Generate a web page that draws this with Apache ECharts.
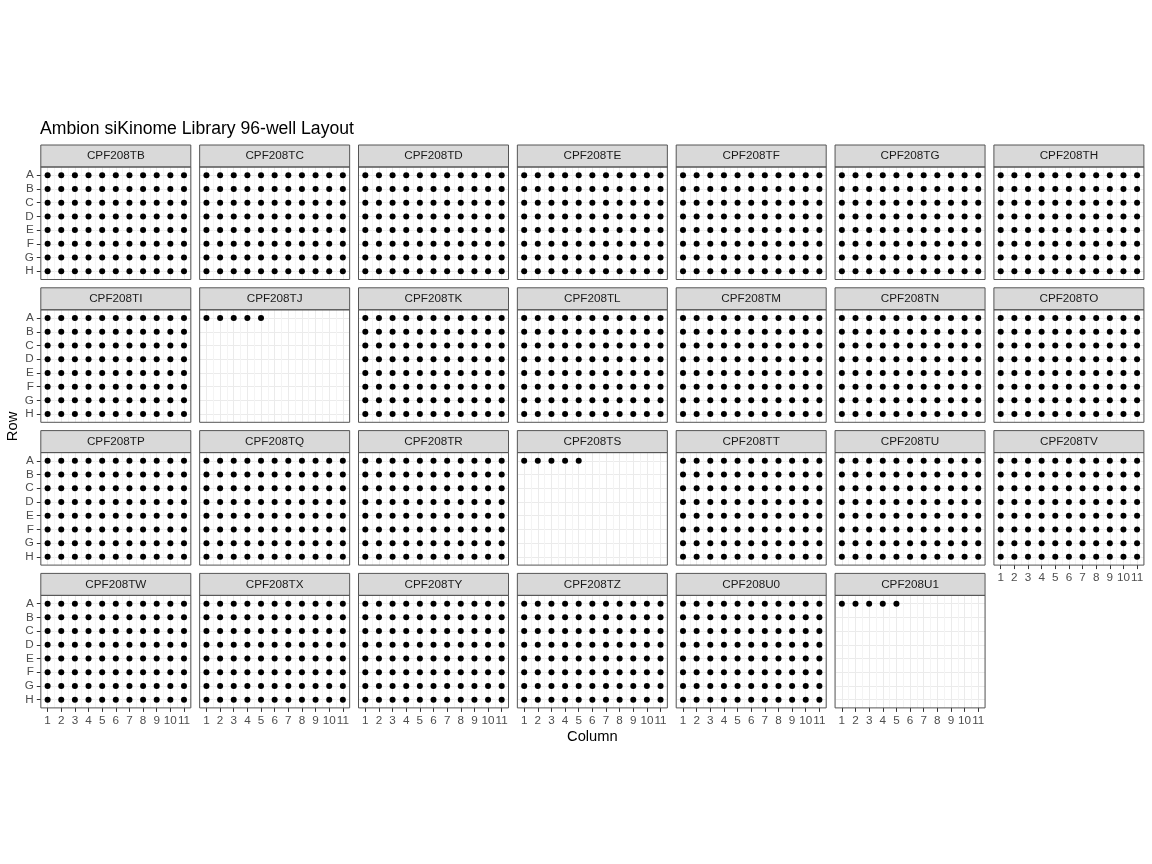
<!DOCTYPE html>
<html>
<head>
<meta charset="utf-8">
<script src="https://cdn.jsdelivr.net/npm/echarts@6/dist/echarts.min.js"></script>
<style>html,body{margin:0;padding:0;background:#fff}#chart{width:1152px;height:864px}</style>
</head>
<body>
<div id="chart"></div>
<script>
// ---- data ----
const rowLabels = ['A', 'B', 'C', 'D', 'E', 'F', 'G', 'H'];
const columnLabels = [1, 2, 3, 4, 5, 6, 7, 8, 9, 10, 11];
const plates = [
  'CPF208TB', 'CPF208TC', 'CPF208TD', 'CPF208TE', 'CPF208TF', 'CPF208TG', 'CPF208TH',
  'CPF208TI', 'CPF208TJ', 'CPF208TK', 'CPF208TL', 'CPF208TM', 'CPF208TN', 'CPF208TO',
  'CPF208TP', 'CPF208TQ', 'CPF208TR', 'CPF208TS', 'CPF208TT', 'CPF208TU', 'CPF208TV',
  'CPF208TW', 'CPF208TX', 'CPF208TY', 'CPF208TZ', 'CPF208U0', 'CPF208U1'
];
// number of wells filled on each plate (filled row by row: A1..A11, B1..)
const wellsFilled = [
  88, 88, 88, 88, 88, 88, 88,
  88, 5, 88, 88, 88, 88, 88,
  88, 88, 88, 5, 88, 88, 88,
  88, 88, 88, 88, 88, 5
];
const titleText = 'Ambion siKinome Library 96-well Layout';
const xTitle = 'Column';
const yTitle = 'Row';

// ---- layout ----
const NCOL = 7;
const PW = 150, PH = 112.5, SH = 22;
const colLeft = c => 40.8 + 158.85 * c;
const stripTop = r => 145 + 142.8 * r;
const nPanels = plates.length;
const nRows = Math.ceil(nPanels / NCOL);

const grids = [], xAxes = [], yAxes = [], series = [], graphics = [];
const FONT = '"Liberation Sans", Arial, Helvetica, sans-serif';
const BORDER = '#555555';

plates.forEach((name, i) => {
  const r = Math.floor(i / NCOL), c = i % NCOL;
  const L = colLeft(c), T = stripTop(r);
  const showX = (i + NCOL >= nPanels);
  const showY = (c === 0);
  grids.push({left: L, top: T + SH, width: PW, height: PH, show: true,
    borderColor: BORDER, borderWidth: 0, backgroundColor: '#ffffff', containLabel: false});
  // value axis for data and grid lines
  xAxes.push({gridIndex: i, type: 'value', min: 0.5, max: 11.5, interval: 0.5,
    axisLabel: {show: false}, axisTick: {show: false}, axisLine: {show: false},
    splitLine: {show: true, lineStyle: {color: ['#F4F4F4', '#EBEBEB'], width: 1}}});
  // category axis for ticks and labels
  xAxes.push({gridIndex: i, type: 'category', data: columnLabels, boundaryGap: true, position: 'bottom',
    axisLine: {show: false},
    axisTick: {show: showX, alignWithLabel: true, length: 4, lineStyle: {color: '#333', width: 1}},
    axisLabel: {show: showX, interval: 0, hideOverlap: false, fontSize: 11.7, color: '#4D4D4D', margin: 7, fontFamily: FONT},
    splitLine: {show: false}});
  yAxes.push({gridIndex: i, type: 'value', min: 0.4, max: 8.6, inverse: true,
    axisLine: {show: false},
    axisTick: {show: showY, customValues: [1, 2, 3, 4, 5, 6, 7, 8], length: 4, lineStyle: {color: '#333', width: 1}},
    axisLabel: {show: showY, customValues: [1, 2, 3, 4, 5, 6, 7, 8], formatter: v => rowLabels[Math.round(v) - 1] || '',
      fontSize: 11.7, color: '#4D4D4D', margin: 7, fontFamily: FONT},
    splitLine: {show: true, lineStyle: {color: '#EBEBEB', width: 1}}});
  const pts = [];
  for (let k = 0; k < wellsFilled[i]; k++) {
    const ri = Math.floor(k / columnLabels.length), ci = k % columnLabels.length;
    pts.push([columnLabels[ci], ri + 1]);
  }
  series.push({type: 'scatter', xAxisIndex: 2 * i, yAxisIndex: i, data: pts, symbolSize: 6,
    itemStyle: {color: '#000', opacity: 1}, silent: true, animation: false});
  graphics.push({type: 'rect', z: 100, shape: {x: L, y: T, width: PW, height: SH},
    style: {fill: '#D9D9D9', stroke: BORDER, lineWidth: 1}, silent: true});
  graphics.push({type: 'rect', z: 100, shape: {x: L, y: T + SH, width: PW, height: PH},
    style: {fill: null, stroke: BORDER, lineWidth: 1}, silent: true});
  graphics.push({type: 'text', z: 101, x: L + PW / 2, y: T + SH / 2,
    style: {text: name, fill: '#1A1A1A', font: '11.7px ' + FONT, textAlign: 'center', textVerticalAlign: 'middle'}, silent: true});
});

const plotTop = stripTop(0), plotBottom = stripTop(nRows - 1) + SH + PH;
graphics.push({type: 'text', x: (colLeft(0) + colLeft(NCOL - 1) + PW) / 2, y: plotBottom + 29,
  style: {text: xTitle, fill: '#000', font: '14.7px ' + FONT, textAlign: 'center', textVerticalAlign: 'middle'}});
graphics.push({type: 'text', x: 12.5, y: (plotTop + plotBottom) / 2, rotation: Math.PI / 2,
  style: {text: yTitle, fill: '#000', font: '14.7px ' + FONT, textAlign: 'center', textVerticalAlign: 'middle'}});

const chart = echarts.init(document.getElementById('chart'), null, {renderer: 'canvas'});
chart.setOption({
  animation: false,
  backgroundColor: '#ffffff',
  title: {text: titleText, left: 40, top: 120, padding: 0,
    textStyle: {fontSize: 17.6, fontWeight: 'normal', color: '#000', fontFamily: FONT}},
  grid: grids, xAxis: xAxes, yAxis: yAxes, series: series, graphic: graphics
});
</script>
</body>
</html>
